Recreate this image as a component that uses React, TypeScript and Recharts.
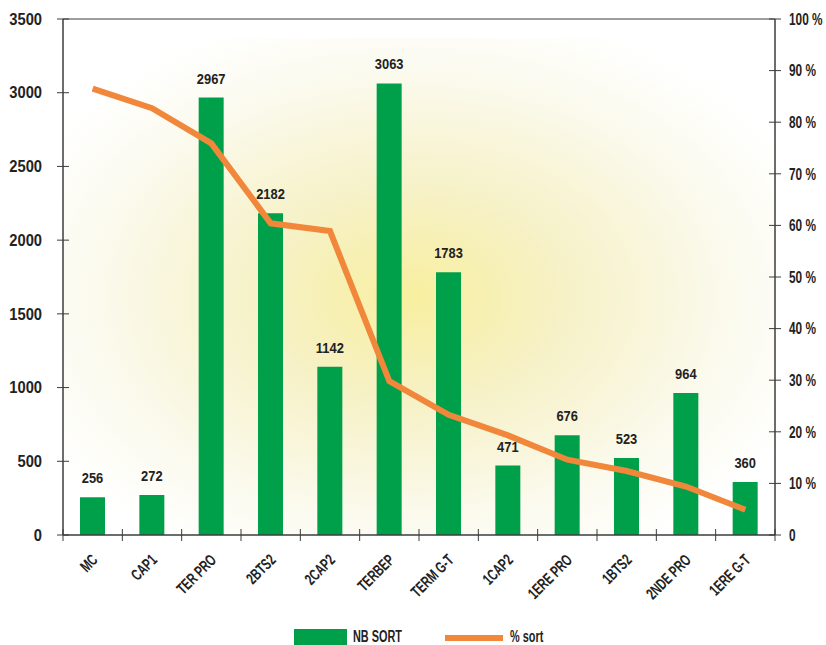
import React from 'react';
import {
  ComposedChart,
  Bar,
  Line,
  XAxis,
  YAxis,
  ReferenceArea,
  ReferenceLine,
  LabelList,
  Legend,
} from 'recharts';

const categories = ['MC', 'CAP1', 'TER PRO', '2BTS2', '2CAP2', 'TERBEP', 'TERM G-T', '1CAP2', '1ERE PRO', '1BTS2', '2NDE PRO', '1ERE G-T'];
const nbSort = [256, 272, 2967, 2182, 1142, 3063, 1783, 471, 676, 523, 964, 360];
const pctSort = [86.5, 82.7, 75.9, 60.4, 58.9, 29.8, 23.3, 19.3, 14.6, 12.4, 9.4, 4.9];
const leftTicks = [0, 500, 1000, 1500, 2000, 2500, 3000, 3500];
const rightTicks = [0, 10, 20, 30, 40, 50, 60, 70, 80, 90, 100];

const data = categories.map((c, i) => ({ name: c, nb: nbSort[i], pct: pctSort[i] }));

const W = 826;
const H = 645;
const LEFT_W = 63;
const RIGHT_W = 51;
const BAND = (W - LEFT_W - RIGHT_W) / categories.length;

const AXIS = '#3c3c3c';
const GREEN = '#00a04b';
const ORANGE = '#f0873a';
const FONT = "'Liberation Sans', Arial, sans-serif";

const LeftTick = (props: any) => {
  const { x, y, payload } = props;
  return (
    <g>
      <line x1={x - 6} x2={x + 6} y1={y} y2={y} stroke={AXIS} strokeWidth={1} />
      <g transform={`translate(${x - 21}, ${y}) scale(0.92, 1)`}>
        <text x={0} y={0} dy="0.36em" textAnchor="end" fontFamily={FONT} fontWeight="bold" fontSize={16} fill="#222">
          {payload.value}
        </text>
      </g>
    </g>
  );
};

const RightTick = (props: any) => {
  const { x, y, payload } = props;
  const v = payload.value === 0 ? '0' : `${payload.value} %`;
  return (
    <g>
      <line x1={x - 6} x2={x + 6} y1={y} y2={y} stroke={AXIS} strokeWidth={1} />
      <g transform={`translate(${x + 14}, ${y}) scale(0.74, 1)`}>
        <text x={0} y={0} dy="0.36em" textAnchor="start" fontFamily={FONT} fontWeight="bold" fontSize={16} fill="#222">
          {v}
        </text>
      </g>
    </g>
  );
};

const BottomTick = (props: any) => {
  const { x, y, payload, index, visibleTicksCount } = props;
  const tx = x + 6;
  const ty = y + 26;
  return (
    <g>
      <line x1={x - BAND / 2} x2={x - BAND / 2} y1={y - 6} y2={y + 6} stroke={AXIS} strokeWidth={1} />
      {index === visibleTicksCount - 1 && (
        <line x1={x + BAND / 2} x2={x + BAND / 2} y1={y - 6} y2={y + 6} stroke={AXIS} strokeWidth={1} />
      )}
      <g transform={`translate(${tx}, ${ty}) rotate(-45) scale(0.68, 1)`}>
        <text x={0} y={0} textAnchor="end" fontFamily={FONT} fontWeight="bold" fontSize={16} fill="#222">
          {payload.value}
        </text>
      </g>
    </g>
  );
};

const BarValueLabel = (props: any) => {
  const { x, y, width, value } = props;
  const cx = Number(x) + Number(width) / 2;
  const by = Number(y) - 14;
  return (
    <g transform={`translate(${cx}, ${by}) scale(0.86, 1)`}>
      <text x={0} y={0} textAnchor="middle" fontFamily={FONT} fontWeight="bold" fontSize={15} fill="#222">
        {value}
      </text>
    </g>
  );
};

const condensed: React.CSSProperties = {
  position: 'absolute',
  lineHeight: '16px',
  transform: 'scaleX(0.68)',
  transformOrigin: 'left center',
  whiteSpace: 'nowrap',
};

const LegendContent = () => (
  <div style={{ position: 'relative', width: W, height: 30, fontFamily: FONT, fontWeight: 'bold', fontSize: 16, color: '#222' }}>
    <div style={{ position: 'absolute', left: 294, top: 14, width: 53, height: 16, background: GREEN }} />
    <div style={{ ...condensed, left: 353, top: 14 }}>NB SORT</div>
    <div style={{ position: 'absolute', left: 445, top: 20, width: 58, height: 6, background: ORANGE }} />
    <div style={{ ...condensed, left: 510, top: 14 }}>% sort</div>
  </div>
);

export default function App() {
  return (
    <div style={{ position: 'absolute', left: 0, top: 0, width: W, height: H, background: '#fff' }}>
      <ComposedChart width={W} height={H} data={data} margin={{ top: 19, right: 0, left: 0, bottom: 0 }}>
        <defs>
          <radialGradient id="bgGrad" cx="49%" cy="52%" r="60%">
            <stop offset="0%" stopColor="#f8ef9f" />
            <stop offset="35%" stopColor="#f6f1c6" />
            <stop offset="75%" stopColor="#fbfaee" />
            <stop offset="100%" stopColor="#ffffff" />
          </radialGradient>
        </defs>
        <XAxis
          dataKey="name"
          xAxisId="x"
          height={80}
          tickLine={false}
          tickSize={0}
          tickMargin={0}
          interval={0}
          tick={<BottomTick />}
          axisLine={{ stroke: AXIS, strokeWidth: 1.5 }}
        />
        <YAxis
          yAxisId="left"
          orientation="left"
          width={LEFT_W}
          domain={[0, 3500]}
          ticks={leftTicks}
          interval={0}
          tickLine={false}
          tickSize={0}
          tickMargin={0}
          tick={<LeftTick />}
          axisLine={{ stroke: AXIS, strokeWidth: 1.5 }}
        />
        <YAxis
          yAxisId="right"
          orientation="right"
          width={RIGHT_W}
          domain={[0, 100]}
          ticks={rightTicks}
          interval={0}
          tickLine={false}
          tickSize={0}
          tickMargin={0}
          tick={<RightTick />}
          axisLine={{ stroke: AXIS, strokeWidth: 1.5 }}
        />
        <ReferenceArea xAxisId="x" yAxisId="left" y1={0} y2={3370} fill="url(#bgGrad)" fillOpacity={1} stroke="none" ifOverflow="visible" />
        <ReferenceLine xAxisId="x" yAxisId="left" y={3500} stroke={AXIS} strokeWidth={1} />
        <Bar xAxisId="x" yAxisId="left" dataKey="nb" fill={GREEN} barSize={25} isAnimationActive={false}>
          <LabelList dataKey="nb" content={<BarValueLabel />} />
        </Bar>
        <Line
          xAxisId="x"
          yAxisId="right"
          dataKey="pct"
          type="linear"
          stroke={ORANGE}
          strokeWidth={6}
          dot={false}
          activeDot={false}
          isAnimationActive={false}
        />
        <Legend verticalAlign="bottom" content={<LegendContent />} wrapperStyle={{ left: 0, bottom: 0, width: W, height: 30 }} />
      </ComposedChart>
    </div>
  );
}
